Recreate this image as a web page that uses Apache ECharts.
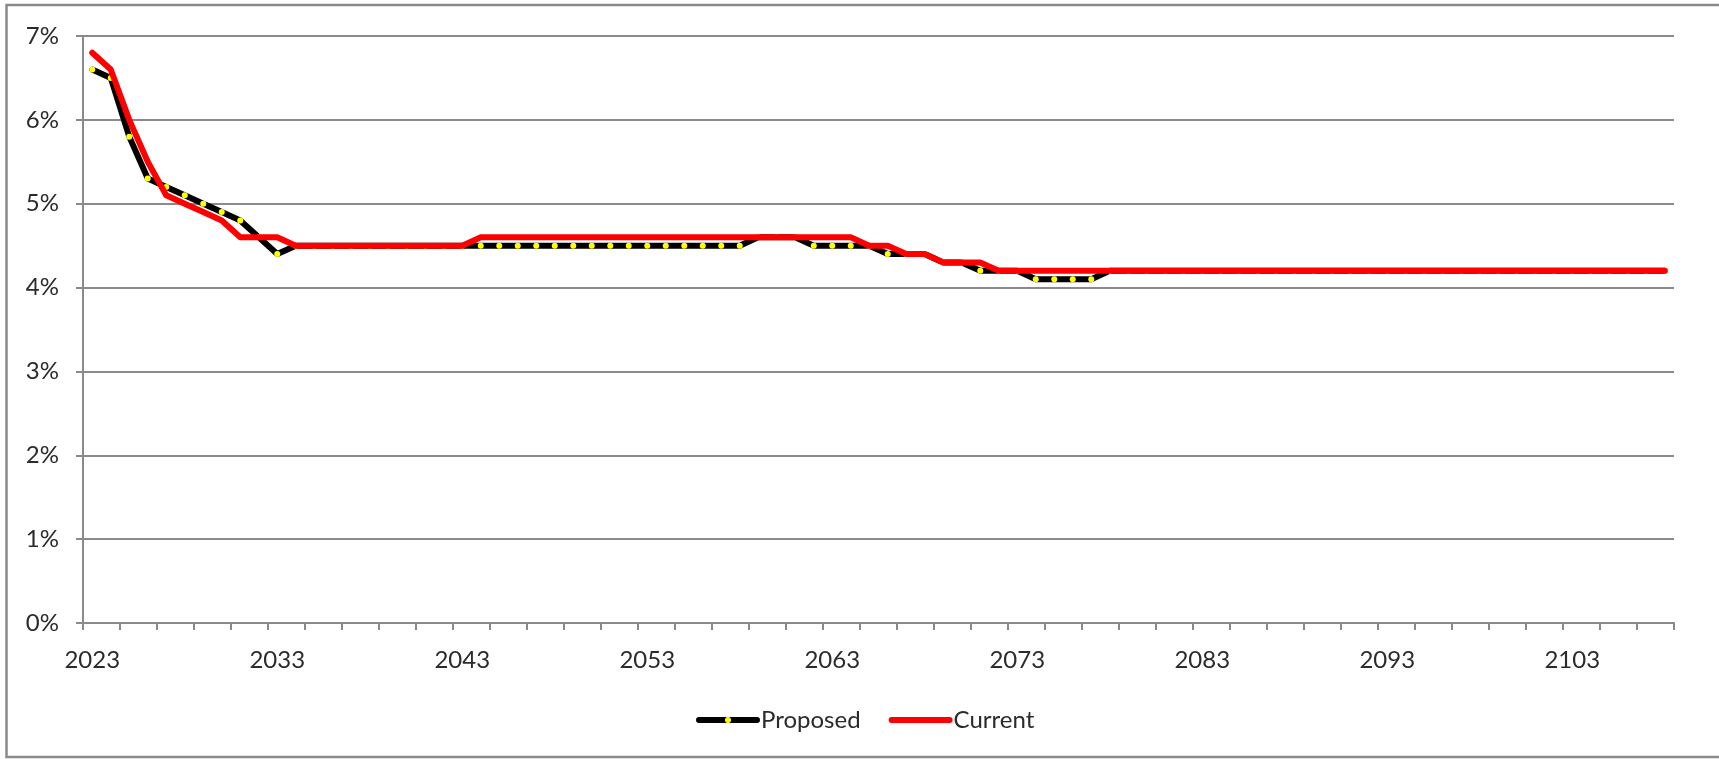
<!DOCTYPE html>
<html>
<head>
<meta charset="utf-8">
<title>Proposed vs Current</title>
<script src="https://cdn.jsdelivr.net/npm/echarts@6/dist/echarts.min.js"></script>
<style>
  html, body { margin: 0; padding: 0; background: #ffffff; }
  #chart { width: 1719px; height: 759px; }
</style>
</head>
<body>
<div id="chart"></div>
<script>
// Projection years, one category per year
const years = [
  '2023','2024','2025','2026','2027','2028','2029','2030','2031','2032',
  '2033','2034','2035','2036','2037','2038','2039','2040','2041','2042',
  '2043','2044','2045','2046','2047','2048','2049','2050','2051','2052',
  '2053','2054','2055','2056','2057','2058','2059','2060','2061','2062',
  '2063','2064','2065','2066','2067','2068','2069','2070','2071','2072',
  '2073','2074','2075','2076','2077','2078','2079','2080','2081','2082',
  '2083','2084','2085','2086','2087','2088','2089','2090','2091','2092',
  '2093','2094','2095','2096','2097','2098','2099','2100','2101','2102',
  '2103','2104','2105','2106','2107','2108'
];

// Rates in percent
const proposed = [
  6.6, 6.5, 5.8, 5.3, 5.2, 5.1, 5.0, 4.9, 4.8, 4.6,
  4.4, 4.5, 4.5, 4.5, 4.5, 4.5, 4.5, 4.5, 4.5, 4.5,
  4.5, 4.5, 4.5, 4.5, 4.5, 4.5, 4.5, 4.5, 4.5, 4.5,
  4.5, 4.5, 4.5, 4.5, 4.5, 4.5, 4.6, 4.6, 4.6, 4.5,
  4.5, 4.5, 4.5, 4.4, 4.4, 4.4, 4.3, 4.3, 4.2, 4.2,
  4.2, 4.1, 4.1, 4.1, 4.1, 4.2, 4.2, 4.2, 4.2, 4.2,
  4.2, 4.2, 4.2, 4.2, 4.2, 4.2, 4.2, 4.2, 4.2, 4.2,
  4.2, 4.2, 4.2, 4.2, 4.2, 4.2, 4.2, 4.2, 4.2, 4.2,
  4.2, 4.2, 4.2, 4.2, 4.2, 4.2
];

const current = [
  6.8, 6.6, 6.0, 5.5, 5.1, 5.0, 4.9, 4.8, 4.6, 4.6,
  4.6, 4.5, 4.5, 4.5, 4.5, 4.5, 4.5, 4.5, 4.5, 4.5,
  4.5, 4.6, 4.6, 4.6, 4.6, 4.6, 4.6, 4.6, 4.6, 4.6,
  4.6, 4.6, 4.6, 4.6, 4.6, 4.6, 4.6, 4.6, 4.6, 4.6,
  4.6, 4.6, 4.5, 4.5, 4.4, 4.4, 4.3, 4.3, 4.3, 4.2,
  4.2, 4.2, 4.2, 4.2, 4.2, 4.2, 4.2, 4.2, 4.2, 4.2,
  4.2, 4.2, 4.2, 4.2, 4.2, 4.2, 4.2, 4.2, 4.2, 4.2,
  4.2, 4.2, 4.2, 4.2, 4.2, 4.2, 4.2, 4.2, 4.2, 4.2,
  4.2, 4.2, 4.2, 4.2, 4.2, 4.2
];

const yTicks = { min: 0, max: 7, step: 1 };

const FONT = 'Lato, "Open Sans", "Liberation Sans", sans-serif';
const TEXT = '#2b2b2b';
const AXIS_GREY = '#8a8a8a';

const chart = echarts.init(document.getElementById('chart'), null, { renderer: 'canvas' });

chart.setOption({
  animation: false,
  backgroundColor: '#ffffff',
  textStyle: { fontFamily: FONT },
  graphic: [{
    type: 'rect',
    silent: true,
    shape: { x: 6.5, y: 5, width: 1800, height: 752 },
    style: { fill: 'none', stroke: AXIS_GREY, lineWidth: 2.5 }
  }],
  grid: { left: 83, right: 45, top: 36, bottom: 136 },
  legend: {
    left: 691,
    top: 703,
    itemWidth: 58,
    itemHeight: 7.5,
    itemGap: 28,
    selectedMode: false,
    lineStyle: { width: 6, cap: 'round' },
    textStyle: { fontFamily: FONT, fontSize: 24, color: TEXT, padding: [0, 0, 0, -1] },
    data: ['Proposed', 'Current']
  },
  xAxis: {
    type: 'category',
    data: years,
    boundaryGap: true,
    axisLine: { lineStyle: { color: AXIS_GREY, width: 2 } },
    axisTick: { show: true, interval: 1, length: 7, lineStyle: { color: AXIS_GREY, width: 2 } },
    axisLabel: { interval: 9, margin: 25, fontFamily: FONT, fontSize: 24, color: TEXT },
    splitLine: { show: false }
  },
  yAxis: {
    type: 'value',
    min: yTicks.min,
    max: yTicks.max,
    interval: yTicks.step,
    axisLine: { show: true, lineStyle: { color: AXIS_GREY, width: 2 } },
    axisTick: { show: true, length: 7, lineStyle: { color: AXIS_GREY, width: 2 } },
    axisLabel: { formatter: '{value}%', margin: 24, fontFamily: FONT, fontSize: 24, color: TEXT },
    splitLine: { show: true, lineStyle: { color: AXIS_GREY, width: 2 } }
  },
  series: [
    {
      name: 'Proposed',
      type: 'line',
      data: proposed,
      z: 2,
      symbol: 'circle',
      symbolSize: 6,
      showSymbol: true,
      showAllSymbol: true,
      itemStyle: { color: '#ffff00', borderWidth: 0 },
      lineStyle: { color: '#000000', width: 6, cap: 'round', join: 'round' },
      emphasis: { disabled: true }
    },
    {
      name: 'Current',
      type: 'line',
      data: current,
      z: 3,
      symbol: 'circle',
      symbolSize: 6,
      showSymbol: false,
      itemStyle: { color: '#ff0000', borderWidth: 0 },
      lineStyle: { color: '#ff0000', width: 6, cap: 'round', join: 'round' },
      emphasis: { disabled: true }
    }
  ]
});
</script>
</body>
</html>
